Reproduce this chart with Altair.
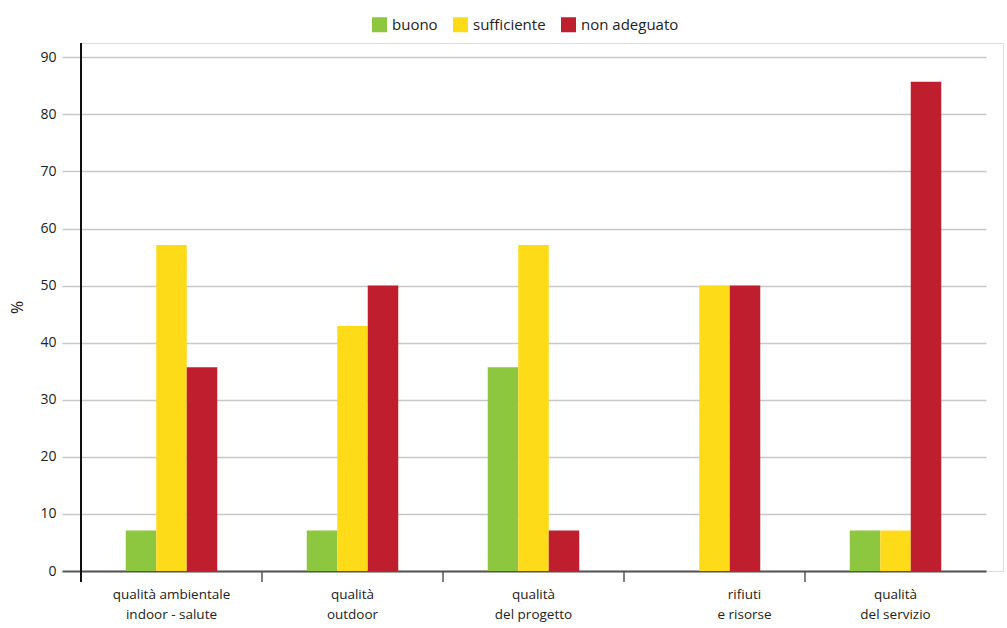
import altair as alt
import pandas as pd

# Category labels ("|" marks a line break in the axis label)
categories = [
    "qualità ambientale|indoor - salute",
    "qualità|outdoor",
    "qualità|del progetto",
    "rifiuti|e risorse",
    "qualità|del servizio",
]
series = ["buono", "sufficiente", "non adeguato"]
colors = ["#8DC63F", "#FDDB18", "#BE1E2D"]

buono = [7.1, 7.1, 35.7, 0.0, 7.1]
sufficiente = [57.1, 42.9, 57.1, 50.0, 7.1]
non_adeguato = [35.7, 50.0, 7.1, 50.0, 85.7]

y_ticks = [0, 10, 20, 30, 40, 50, 60, 70, 80, 90]

rows = []
for name, vals in zip(series, [buono, sufficiente, non_adeguato]):
    for cat, v in zip(categories, vals):
        rows.append({"categoria": cat, "serie": name, "valore": v})
df = pd.DataFrame(rows)
cat_df = pd.DataFrame({"categoria": categories})

FONT = "Open Sans"
W, H = 922, 528
x_scale = alt.Scale(domain=categories, paddingInner=0, paddingOuter=0, range=[0, 905])
x_axis = alt.Axis(
    title=None,
    labelExpr="split(datum.label, '|')",
    labelAngle=0,
    labelFont=FONT,
    labelFontSize=13.5,
    labelColor="#222",
    labelLineHeight=20,
    labelPadding=16,
    labelOffset={"condition": {"test": "datum.value == 'rifiuti|e risorse'", "value": 30}, "value": 0},
    ticks=False,
    domainColor="#555",
    domainWidth=2,
    grid=False,
)

bars = alt.Chart(df).mark_bar().encode(
    x=alt.X("categoria:N", sort=categories, scale=x_scale, axis=x_axis),
    xOffset=alt.XOffset(
        "serie:N",
        sort=series,
        scale=alt.Scale(paddingInner=0, paddingOuter=0, range=[44.75, 136.25]),
    ),
    y=alt.Y(
        "valore:Q",
        scale=alt.Scale(domain=[0, 92.5], nice=False),
        axis=alt.Axis(
            title="%",
            titleFont=FONT,
            titleFontSize=16,
            titleFontWeight="normal",
            titleColor="#222",
            titlePadding=14,
            values=y_ticks,
            labelFont=FONT,
            labelFontSize=14,
            labelColor="#222",
            labelPadding=6,
            tickSize=19,
            tickColor={"condition": {"test": "datum.value == 0", "value": "#555"}, "value": "#c8c8c8"},
            tickWidth={"condition": {"test": "datum.value == 0", "value": 2}, "value": 1.5},
            grid=True,
            gridColor="#c8c8c8",
            gridWidth=1.5,
            domain=False,
        ),
    ),
    color=alt.Color(
        "serie:N",
        sort=series,
        scale=alt.Scale(domain=series, range=colors),
        legend=alt.Legend(
            title=None,
            orient="none",
            direction="horizontal",
            legendX=291,
            legendY=-26,
            symbolType="square",
            symbolSize=225,
            symbolStrokeWidth=0,
            labelFont=FONT,
            labelFontSize=15,
            labelColor="#222",
            labelOffset=5,
            columnPadding=15,
        ),
    ),
)

# short separator ticks at the start of each category band
separators = alt.Chart(cat_df).mark_rule(color="#555", strokeWidth=1.5).encode(
    x=alt.X("categoria:N", sort=categories, scale=x_scale, axis=x_axis, bandPosition=0),
    y=alt.value(H),
    y2=alt.value(H + 11),
)

# vertical axis line, running a little below the baseline
y_line = alt.Chart(cat_df).mark_rule(color="#111", strokeWidth=1.5).encode(
    x=alt.value(0), y=alt.value(0), y2=alt.value(H + 11)
)

chart = alt.layer(bars, separators, y_line).properties(
    width=W,
    height=H,
    padding={"left": 81, "top": 43, "right": 4, "bottom": 57},
    autosize=alt.AutoSizeParams(type="none"),
).configure_view(stroke=None).configure(background="white")

chart.save("out.html", embed_options={"renderer": "svg", "actions": False})
